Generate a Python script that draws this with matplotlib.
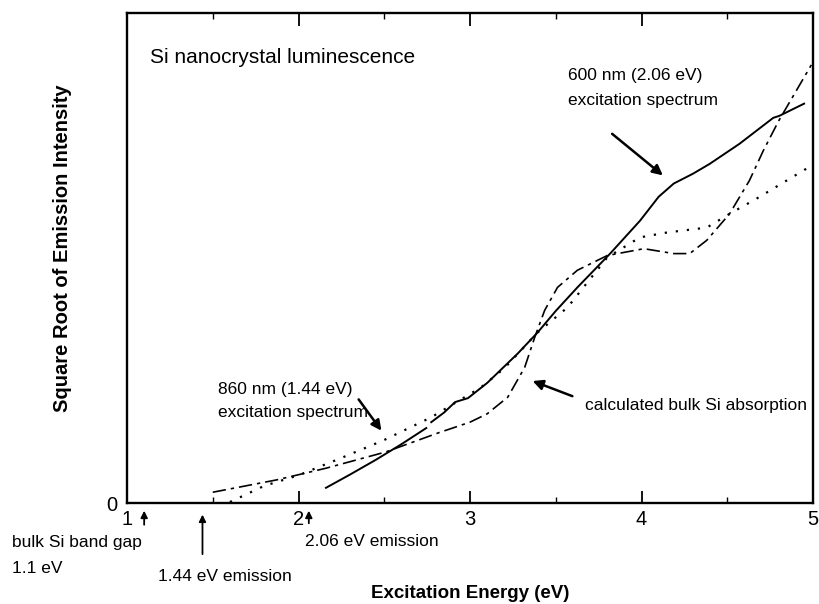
import matplotlib
matplotlib.use("Agg")
import matplotlib.pyplot as plt
from matplotlib.ticker import MultipleLocator

plt.rcParams['font.family'] = ['Liberation Sans', 'DejaVu Sans']

# 600 nm (2.06 eV) excitation spectrum - solid, with a small break near 2.76 eV
e600_a = [2.16, 2.30, 2.45, 2.60, 2.745]
s600_a = [0.031, 0.058, 0.088, 0.120, 0.153]
e600_b = [2.774, 2.85, 2.913, 2.988, 3.10, 3.278, 3.394, 3.50, 3.626, 3.817, 3.991,
          4.10, 4.188, 4.30, 4.397, 4.571, 4.768, 4.803, 4.948]
s600_b = [0.165, 0.185, 0.206, 0.214, 0.245, 0.305, 0.348, 0.392, 0.440, 0.509, 0.576,
          0.625, 0.652, 0.672, 0.692, 0.733, 0.786, 0.790, 0.815]

# 860 nm (1.44 eV) excitation spectrum - dotted
e860 = [1.60, 1.80, 2.003, 2.25, 2.496, 2.774, 3.064, 3.20, 3.394, 3.568, 3.80, 3.99,
        4.148, 4.38, 4.513, 4.67, 4.96]
s860 = [0.002, 0.035, 0.057, 0.092, 0.128, 0.175, 0.236, 0.275, 0.348, 0.399, 0.501,
        0.542, 0.552, 0.562, 0.590, 0.621, 0.682]

# calculated bulk Si absorption - dash-dot
ecalc = [1.50, 1.87, 2.16, 2.507, 2.814, 3.00, 3.10, 3.22, 3.319, 3.377, 3.435, 3.51,
         3.626, 3.80, 4.014, 4.188, 4.281, 4.38, 4.513, 4.629, 4.71, 4.80, 4.99]
scalc = [0.022, 0.047, 0.071, 0.104, 0.143, 0.165, 0.182, 0.216, 0.277, 0.338, 0.393,
         0.440, 0.475, 0.505, 0.519, 0.509, 0.509, 0.536, 0.590, 0.658, 0.719, 0.780, 0.894]

fig = plt.figure(figsize=(8.2, 6.04), dpi=100)
ax = fig.add_axes([0.1549, 0.1672, 0.8366, 0.8113])

ax.plot(e600_a, s600_a, color='black', lw=1.4)
ax.plot(e600_b, s600_b, color='black', lw=1.4)
ax.plot(e860, s860, color='black', lw=1.6, linestyle=(0, (1, 4)))
ax.plot(ecalc, scalc, color='black', lw=1.2, linestyle=(0, (8, 3, 2, 3)))

ax.set_xlim(1, 5)
ax.set_ylim(0, 1)
ax.xaxis.set_major_locator(MultipleLocator(1))
ax.xaxis.set_minor_locator(MultipleLocator(0.5))
ax.set_yticks([0])
ax.set_yticklabels(['0'])
ax.tick_params(axis='x', which='major', direction='in', length=9, width=1.3,
               top=True, labelsize=14.5, pad=5)
ax.tick_params(axis='x', which='minor', direction='in', length=4, width=1.0, top=True)
ax.tick_params(axis='y', length=0, labelsize=14.5, pad=7)
for sp in ax.spines.values():
    sp.set_linewidth(1.7)

ax.set_xlabel('Excitation Energy (eV)', fontsize=13.5, fontweight='bold')
ax.xaxis.set_label_coords(0.5, -0.167)
ax.set_ylabel('Square Root of Emission Intensity', fontsize=14.5, fontweight='bold')
ax.yaxis.set_label_coords(-0.08, 0.52)

ax.text(1.134, 0.91, 'Si nanocrystal luminescence', fontsize=15, va='center')
ax.text(3.571, 0.873, '600 nm (2.06 eV)', fontsize=12.5, va='center')
ax.text(3.571, 0.822, 'excitation spectrum', fontsize=12.5, va='center')
ax.text(1.531, 0.231, '860 nm (1.44 eV)', fontsize=12.5, va='center')
ax.text(1.531, 0.184, 'excitation spectrum', fontsize=12.5, va='center')
ax.text(3.671, 0.2, 'calculated bulk Si absorption', fontsize=12.5, va='center')

arrow = dict(arrowstyle='-|>', color='black', lw=1.8, mutation_scale=15)
ax.annotate('', xy=(4.137, 0.665), xytext=(3.816, 0.757), arrowprops=arrow)
ax.annotate('', xy=(2.493, 0.143), xytext=(2.341, 0.216), arrowprops=arrow)
ax.annotate('', xy=(3.35, 0.251), xytext=(3.612, 0.216), arrowprops=arrow)

# emission energies marked under the axis
small = dict(arrowstyle='-|>', color='black', lw=1.3, mutation_scale=10)
ax.annotate('', xy=(1.1, -0.01), xytext=(1.1, -0.05), arrowprops=small, annotation_clip=False)
ax.annotate('', xy=(1.44, -0.018), xytext=(1.44, -0.11), arrowprops=small, annotation_clip=False)
ax.annotate('', xy=(2.06, -0.01), xytext=(2.06, -0.047), arrowprops=small, annotation_clip=False)

ax.text(0.329, -0.08, 'bulk Si band gap', fontsize=12.5, va='center', clip_on=False)
ax.text(0.329, -0.133, '1.1 eV', fontsize=12.5, va='center', clip_on=False)
ax.text(1.181, -0.149, '1.44 eV emission', fontsize=12.5, va='center', clip_on=False)
ax.text(2.038, -0.078, '2.06 eV emission', fontsize=12.5, va='center', clip_on=False)

fig.savefig('out.png', dpi=100)
